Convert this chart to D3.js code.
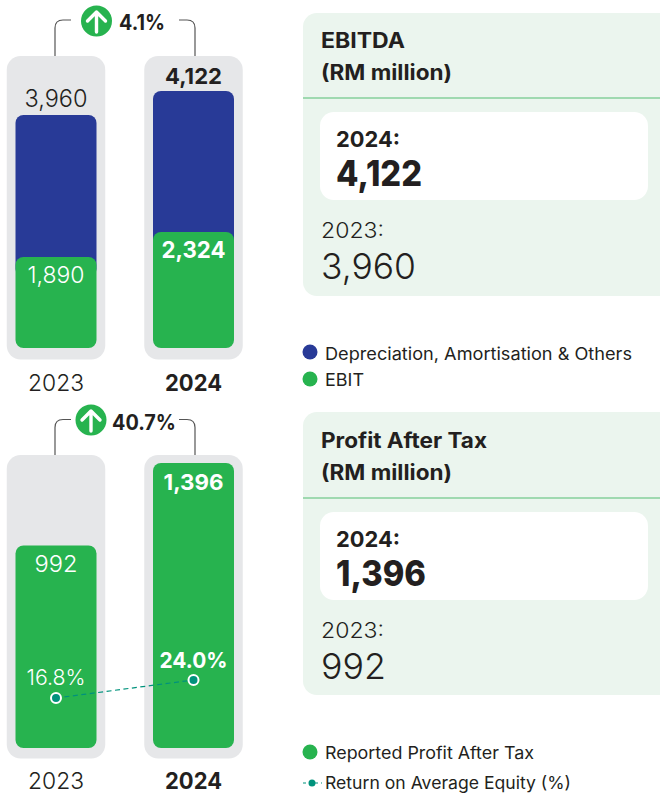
<!DOCTYPE html>
<html><head><meta charset="utf-8"><script src="https://cdn.jsdelivr.net/npm/d3@7"></script>
<style>html,body{margin:0;padding:0;background:#fff}svg{display:block}text{font-family:Inter,sans-serif}</style></head>
<body><div id="c"></div>
<script>
const years = ["2023","2024"];
const ebit = [1890,2324];
const ebitda = [3960,4122];
const pat = [992,1396];
const roe = [16.8,24.0];
const ebitdaChange = "4.1%";
const patChange = "40.7%";
const legendTop = ["Depreciation, Amortisation & Others","EBIT"];
const legendBottom = ["Reported Profit After Tax","Return on Average Equity (%)"];
const panelTitles = [["EBITDA","(RM million)"],["Profit After Tax","(RM million)"]];

const BLUE="#283a97",GREEN="#27b34f",TRACK="#e6e7e9",INK="#231f20",TEAL="#00927c",PANEL="#ebf5ee",RULE="#86cf9b";
const fmt=d3.format(",");
const svg=d3.select("#c").append("svg").attr("width",660).attr("height",795);

const cx=d3.scalePoint().domain(years).range([56,193.5]);
const barW=81,trackW=98.5;
// the source graphic's stack is not to one linear scale, so the top panel's scale is piecewise
const yTop=d3.scaleLinear().domain([0,1890,2324,3960,4122]).range([348,257,232,115,91]);
const yBot=d3.scaleLinear().domain([0,1396]).range([748,463]);
const yRoe=d3.scaleLinear().domain([16.8,24]).range([698,680]);

function label(g,x,y,t,size,weight,fill,anchor,w){
  const e=g.append("text").attr("x",x).attr("y",y).attr("text-anchor",anchor||"middle")
   .attr("font-size",size).attr("font-weight",weight===true?700:weight===false?300:weight).attr("fill",fill).text(t);
  if(w) e.attr("textLength",w).attr("lengthAdjust","spacingAndGlyphs");
  return e;
}
function bracket(g,top,bottom,xa,xb,xla,xlb){
  const r=8;
  g.append("path").attr("fill","none").attr("stroke","#555").attr("stroke-width",1.2)
   .attr("d",`M${xa} ${bottom}V${top+r}Q${xa} ${top} ${xa+r} ${top}H${xla}M${xlb} ${top}H${xb-r}Q${xb} ${top} ${xb} ${top+r}V${bottom}`);
}
function arrowBadge(g,cx0,cy){
  g.append("circle").attr("cx",cx0).attr("cy",cy).attr("r",15.5).attr("fill",GREEN);
  g.append("path").attr("fill","none").attr("stroke","#fff").attr("stroke-width",3.4).attr("stroke-linecap","round").attr("stroke-linejoin","round")
   .attr("d",`M${cx0} ${cy+11}V${cy-9}M${cx0-9} ${cy}L${cx0} ${cy-9}L${cx0+9} ${cy}`);
}
function track(g,c,top){
  g.append("rect").attr("x",cx(c)-trackW/2).attr("y",top).attr("width",trackW).attr("height",303.5).attr("rx",14).attr("fill",TRACK);
}
function bar(g,c,y0,y1,fill){
  g.append("rect").attr("x",cx(c)-barW/2).attr("y",y1).attr("width",barW).attr("height",y0-y1).attr("rx",8).attr("fill",fill);
}

// top chart
const t=svg.append("g");
bracket(t,20,56,55,195,71,179);
years.forEach((c,i)=>{
  track(t,c,56);
  bar(t,c,yTop(ebit[i])+20,yTop(ebitda[i]),BLUE);
  bar(t,c,yTop(0),yTop(ebit[i]),GREEN);
  const b=i==1;
  label(t,cx(c),b?84:107,fmt(ebitda[i]),b?22:24,b,INK,"middle",b?57:63);
  label(t,cx(c),b?258:283,fmt(ebit[i]),23,b,"#fff","middle",b?64:57);
  label(t,cx(c),391,c,23,b,INK,"middle",b?57:56);
});
arrowBadge(t,96.5,21);
label(t,119,30,ebitdaChange,21,true,INK,"start",46);

// bottom chart
const m=svg.append("g");
bracket(m,419.5,455,55,195,71,179);
years.forEach((c,i)=>{
  track(m,c,455);
  bar(m,c,yBot(0),yBot(pat[i]),GREEN);
  const b=i==1;
  label(m,cx(c),b?490:572,fmt(pat[i]),b?22:23,b,"#fff","middle",b?60:43);
  label(m,cx(c),b?668:685,roe[i].toFixed(1)+"%",22,b,"#fff","middle",b?68:59);
  label(m,cx(c),789,c,23,b,INK,"middle",b?57:56);
});
arrowBadge(m,91,420);
label(m,112,430,patChange,21,true,INK,"start",64);
const line=d3.line().x((d,i)=>cx(years[i])).y(d=>yRoe(d));
m.append("path").attr("d",line(roe)).attr("fill","none").attr("stroke",TEAL).attr("stroke-width",1.2).attr("stroke-dasharray","5 3.5");
m.selectAll("circle.r").data(roe).join("circle").attr("class","r").attr("cx",(d,i)=>cx(years[i])).attr("cy",d=>yRoe(d)).attr("r",5).attr("fill",TEAL).attr("stroke","#fff").attr("stroke-width",2);

// panels
function panel(top,dy,titles,cur,prev,w){
  const g=svg.append("g");
  g.append("rect").attr("x",303).attr("y",top).attr("width",380).attr("height",283).attr("rx",14).attr("fill",PANEL);
  const c=top+dy;
  g.append("line").attr("x1",303).attr("x2",660).attr("y1",c+85).attr("y2",c+85).attr("stroke",RULE).attr("stroke-width",1.5);
  label(g,321,c+35,titles[0],21,true,INK,"start",w[0]);
  label(g,321,c+67,titles[1],21,true,INK,"start",131);
  g.append("rect").attr("x",320).attr("y",c+99).attr("width",328).attr("height",88).attr("rx",14).attr("fill","#fff");
  label(g,336,c+134,years[1]+":",22,true,INK,"start",64);
  label(g,336,c+173,fmt(cur),35,800,INK,"start",w[1]);
  label(g,321,c+225,years[0]+":",22,false,INK,"start",63);
  label(g,321,c+266,fmt(prev),36,false,INK,"start",w[2]);
}
panel(13,0,panelTitles[0],ebitda[1],ebitda[0],[84,86,95]);
panel(412,1,panelTitles[1],pat[1],pat[0],[166,90,65]);

// legends
const l=svg.append("g");
function dot(y,fill){l.append("circle").attr("cx",310).attr("cy",y).attr("r",7.5).attr("fill",fill);}
dot(352,BLUE);label(l,325,360,legendTop[0],17,400,INK,"start",307);
dot(379,GREEN);label(l,325,386,legendTop[1],17,400,INK,"start",39);
dot(752,GREEN);label(l,325,759,legendBottom[0],17,400,INK,"start",209);
l.append("line").attr("x1",303).attr("x2",322).attr("y1",783).attr("y2",783).attr("stroke",TEAL).attr("stroke-width",1.2).attr("stroke-dasharray","3 3");
l.append("circle").attr("cx",312).attr("cy",783).attr("r",3.5).attr("fill",TEAL);
label(l,325,789,legendBottom[1],17,400,INK,"start",246);
</script></body></html>
